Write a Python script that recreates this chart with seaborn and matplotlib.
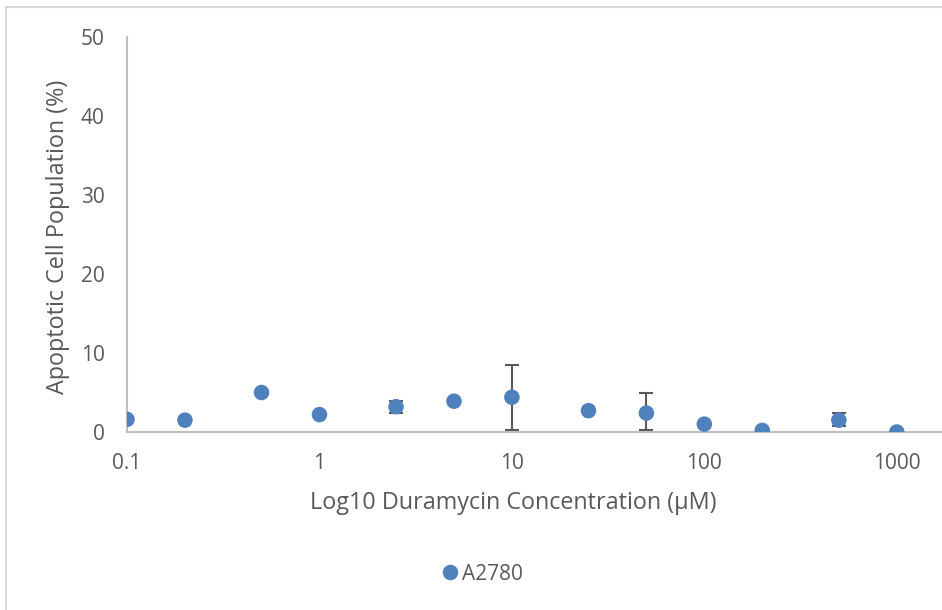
import matplotlib
matplotlib.use("Agg")
import matplotlib.pyplot as plt
import seaborn as sns
import pandas as pd
from matplotlib.patches import Rectangle

# Duramycin dose series for A2780 cells
concentration = [0.1, 0.2, 0.5, 1, 2.5, 5, 10, 25, 50, 100, 200, 500, 1000]
apoptotic_pct = [1.6, 1.5, 5.0, 2.2, 3.2, 3.9, 4.4, 2.7, 2.4, 1.0, 0.2, 1.5, 0.0]
error_low = [0, 0, 0, 0, 0.8, 0, 4.2, 0, 2.2, 0, 0, 0.8, 0]
error_high = [0, 0, 0, 0, 0.7, 0, 4.1, 0, 2.6, 0, 0, 0.9, 0]
cell_line = "A2780"

x_ticks = [0.1, 1, 10, 100, 1000]
x_tick_labels = ["0.1", "1", "10", "100", "1000"]
y_ticks = [0, 10, 20, 30, 40, 50]

df = pd.DataFrame({"conc": concentration, "pct": apoptotic_pct,
                   "lo": error_low, "hi": error_high, "line": cell_line})

sns.set_theme(style="white")
plt.rcParams["font.family"] = ["Open Sans", "DejaVu Sans"]

W, H = 942, 610
fig = plt.figure(figsize=(W / 100, H / 100), dpi=100)
ax_w = (W - 127) / W
ax_h = (432 - 37) / H
ax = fig.add_axes([127 / W, 1 - 432 / H, ax_w, ax_h])

text_col = "#595959"
axis_col = "#bfbfbf"
marker_col = "#4f81bd"

# error bars drawn beneath markers
ax.errorbar(df["conc"], df["pct"], yerr=[df["lo"], df["hi"]], fmt="none",
            ecolor=text_col, elinewidth=1.5, capsize=5, capthick=1.5, zorder=2)

sns.scatterplot(data=df, x="conc", y="pct", hue="line", palette=[marker_col],
                s=125, edgecolor=marker_col, linewidth=0, ax=ax, zorder=3,
                legend=True)

ax.set_xscale("log")
ax.set_xlim(0.1, 10 ** 3.235)
ax.set_ylim(0, 50)
ax.set_xticks(x_ticks)
ax.set_xticklabels(x_tick_labels)
ax.minorticks_off()
ax.set_yticks(y_ticks)
ax.tick_params(axis="both", length=0, labelsize=15, colors=text_col)
ax.tick_params(axis="x", pad=15)
ax.tick_params(axis="y", pad=16)

for side in ["top", "right"]:
    ax.spines[side].set_visible(False)
for side in ["left", "bottom"]:
    ax.spines[side].set_color(axis_col)
    ax.spines[side].set_linewidth(1.5)
ax.patch.set_alpha(0)

ax.set_xlabel("Log10 Duramycin Concentration (µM)", fontsize=16.8,
              color=text_col)
ax.xaxis.set_label_coords((513 - 127) / 815, -(503 - 432) / 395)
ax.xaxis.label.set_va("center")
ax.set_ylabel("Apoptotic Cell Population (%)", fontsize=16.8,
              color=text_col)
ax.yaxis.set_label_coords((58 - 127) / 815, (432 - 236.5) / 395)
ax.yaxis.label.set_va("center")

ax.get_legend().remove()
handles, labels = ax.get_legend_handles_labels()
fig.legend(handles, labels, loc="center", bbox_to_anchor=(481 / W, 1 - 574 / H),
           frameon=False, fontsize=15, labelcolor=text_col, handletextpad=0.1,
           markerscale=1.0, handlelength=1.0)

# light chart-area frame
fig.patches.append(Rectangle((6 / W, -0.05), 1.1, 1 - 7 / H + 0.05,
                             transform=fig.transFigure, fill=False,
                             edgecolor="#d9d9d9", linewidth=1.5, zorder=0))

fig.savefig("out.png", dpi=100)
